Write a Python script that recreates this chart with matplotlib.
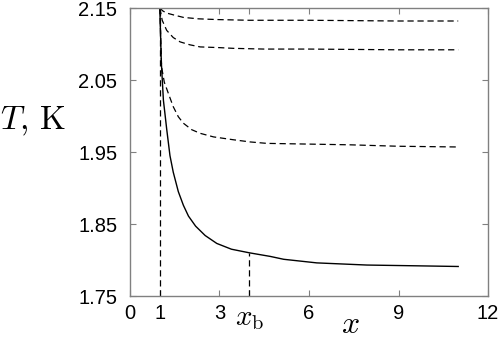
import numpy as np
import matplotlib
matplotlib.use("Agg")
import matplotlib.pyplot as plt

plt.rcParams['mathtext.fontset'] = 'cm'
plt.rcParams['font.family'] = ['Liberation Sans', 'DejaVu Sans']

# solid curve T(x)
x_sol = [1.0, 1.05, 1.12, 1.17, 1.23, 1.34, 1.45, 1.62, 1.79, 1.96, 2.2, 2.52, 2.91, 3.4, 4.0, 4.7, 5.15, 6.26, 7.94, 9.5, 11.0]
T_sol = [2.15, 2.075, 2.022, 2.004, 1.982, 1.945, 1.922, 1.895, 1.876, 1.861, 1.847, 1.834, 1.823, 1.815, 1.810, 1.805, 1.801, 1.796, 1.793, 1.792, 1.791]

# dashed curves
x_d1 = [1.0, 1.1, 1.23, 1.5, 1.79, 2.3, 2.91, 4.0, 6.0, 9.0, 11.0]
T_d1 = [2.15, 2.146, 2.143, 2.140, 2.137, 2.135, 2.134, 2.133, 2.133, 2.132, 2.132]

x_d2 = [1.0, 1.08, 1.23, 1.45, 1.68, 2.0, 2.35, 3.0, 3.47, 4.5, 6.0, 9.0, 11.0]
T_d2 = [2.15, 2.133, 2.119, 2.109, 2.103, 2.099, 2.096, 2.095, 2.094, 2.093, 2.093, 2.092, 2.092]

x_d3 = [1.0, 1.06, 1.15, 1.29, 1.45, 1.62, 1.79, 2.07, 2.35, 2.8, 3.47, 4.03, 4.59, 6.0, 7.38, 9.0, 11.0]
T_d3 = [2.15, 2.068, 2.047, 2.031, 2.013, 1.999, 1.990, 1.981, 1.976, 1.971, 1.967, 1.964, 1.962, 1.961, 1.960, 1.958, 1.957]

x_b = 4.0
T_b = 1.810

xticks = [0, 1, 3, x_b, 6, 9, 12]
xticklabels = ['0', '1', '3', r'$x_\mathrm{b}$', '6', '9', '12']
yticks = [1.75, 1.85, 1.95, 2.05, 2.15]
yticklabels = ['1.75', '1.85', '1.95', '2.05', '2.15']

fig = plt.figure(figsize=(4.98, 3.42), dpi=100)
ax = fig.add_axes([0.261, 0.1345, 0.719, 0.842])

ax.plot(x_sol, T_sol, color='black', lw=1.0)
for xs, ts in [(x_d1, T_d1), (x_d2, T_d2), (x_d3, T_d3)]:
    ax.plot(xs, ts, color='black', lw=0.9, dashes=(5, 3))
ax.plot([1, 1], [1.75, 2.15], color='black', lw=0.9, dashes=(5, 3))
ax.plot([x_b, x_b], [1.75, T_b], color='black', lw=0.9, dashes=(5, 3))

ax.set_xlim(0, 12)
ax.set_ylim(1.75, 2.15)
ax.tick_params(direction='in', length=4, width=0.8, color='#808080', labelsize=14.5,
               top=True, right=True)
ax.tick_params(axis='x', pad=6)
ax.tick_params(axis='y', pad=9)
ax.set_xticks(xticks)
ax.set_xticklabels(xticklabels)
ax.set_yticks(yticks)
ax.set_yticklabels(yticklabels)
ax.get_xticklabels()[3].set_fontsize(21)
for s in ax.spines.values():
    s.set_color('#808080')
    s.set_linewidth(1.0)

fig.text(33 / 498, 1 - 121 / 342, r'$T,\,\mathrm{K}$', fontsize=24, ha='center', va='center')
fig.text(350 / 498, 1 - 333 / 342, r'$x$', fontsize=23, ha='center', va='baseline')

fig.savefig('out.png', dpi=100)
